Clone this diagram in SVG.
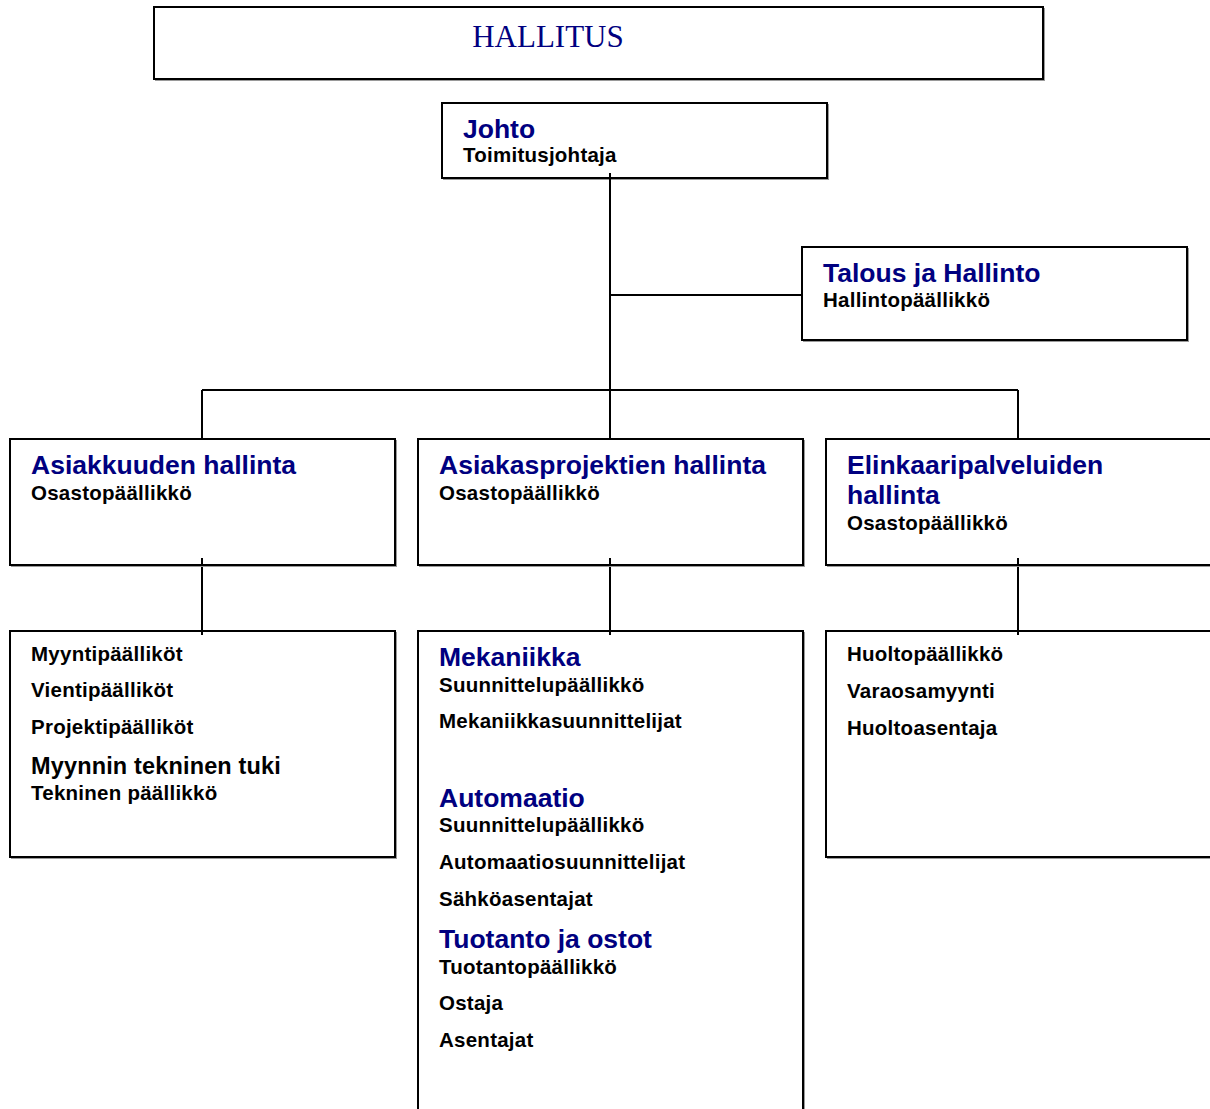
<svg xmlns="http://www.w3.org/2000/svg" width="1210" height="1109" viewBox="0 0 1210 1109">
  <style>
    .box { fill: #ffffff; stroke: #000000; stroke-width: 2; }
    .shadow { fill: none; stroke: #9a9a9a; stroke-width: 2; }
    .link { stroke: #000000; stroke-width: 2; fill: none; }
    .board { font-family: "Liberation Serif", "Times New Roman", serif; font-size: 31px; fill: #000080; }
    .title { font-family: "Liberation Sans", Arial, sans-serif; font-weight: bold; font-size: 26.5px; fill: #000080; }
    .role { font-family: "Liberation Sans", Arial, sans-serif; font-weight: bold; font-size: 20.5px; letter-spacing: 0.25px; fill: #000000; }
    .sub { font-family: "Liberation Sans", Arial, sans-serif; font-weight: bold; font-size: 23.5px; letter-spacing: 0.15px; fill: #000000; }
  </style>
  <rect width="1210" height="1109" fill="#ffffff"/>

  <!-- connectors -->
  <g id="connectors">
    <line class="link" x1="610" y1="173" x2="610" y2="440"/>
    <line class="link" x1="610" y1="295" x2="802" y2="295"/>
    <line class="link" x1="202" y1="390" x2="1018" y2="390"/>
    <line class="link" x1="202" y1="390" x2="202" y2="440"/>
    <line class="link" x1="1018" y1="390" x2="1018" y2="440"/>
    <line class="link" x1="202" y1="558" x2="202" y2="635"/>
    <line class="link" x1="610" y1="558" x2="610" y2="635"/>
    <line class="link" x1="1018" y1="558" x2="1018" y2="635"/>
  </g>

  <g id="hallitus">
    <polyline class="shadow" points="1044,8 1044,80 155,80"/>
    <rect class="box" x="154" y="7" width="889" height="72"/>
    <text class="board" x="548" y="47" text-anchor="middle">HALLITUS</text>
  </g>

  <g id="johto">
    <polyline class="shadow" points="828,104 828,179 443,179"/>
    <rect class="box" x="442" y="103" width="385" height="75"/>
    <text class="title" x="463" y="138">Johto</text>
    <text class="role" x="463" y="162">Toimitusjohtaja</text>
  </g>
  <line class="link" x1="610" y1="173" x2="610" y2="182"/>

  <g id="talous">
    <polyline class="shadow" points="1188,248 1188,341 803,341"/>
    <rect class="box" x="802" y="247" width="385" height="93"/>
    <text class="title" x="823" y="282">Talous ja Hallinto</text>
    <text class="role" x="823" y="307">Hallintopäällikkö</text>
  </g>

  <g id="asiakkuus">
    <polyline class="shadow" points="396,440 396,566 11,566"/>
    <rect class="box" x="10" y="439" width="385" height="126"/>
    <text class="title" x="31" y="474">Asiakkuuden hallinta</text>
    <text class="role" x="31" y="500">Osastopäällikkö</text>
  </g>

  <g id="asiakasprojektit">
    <polyline class="shadow" points="804,440 804,566 419,566"/>
    <rect class="box" x="418" y="439" width="385" height="126"/>
    <text class="title" x="439" y="474">Asiakasprojektien hallinta</text>
    <text class="role" x="439" y="500">Osastopäällikkö</text>
  </g>

  <g id="elinkaari">
    <polyline class="shadow" points="827,566 1212,566"/>
    <rect class="box" x="826" y="439" width="390" height="126"/>
    <text class="title" x="847" y="474">Elinkaaripalveluiden</text>
    <text class="title" x="847" y="504">hallinta</text>
    <text class="role" x="847" y="530">Osastopäällikkö</text>
  </g>

  <!-- short stubs crossing the lower box edges -->
  <g id="stubs">
    <line class="link" x1="202" y1="558" x2="202" y2="566"/>
    <line class="link" x1="610" y1="558" x2="610" y2="566"/>
    <line class="link" x1="1018" y1="558" x2="1018" y2="566"/>
  </g>

  <g id="myynti">
    <polyline class="shadow" points="396,632 396,858 11,858"/>
    <rect class="box" x="10" y="631" width="385" height="226"/>
    <text class="role" x="31" y="661">Myyntipäälliköt</text>
    <text class="role" x="31" y="697">Vientipäälliköt</text>
    <text class="role" x="31" y="734">Projektipäälliköt</text>
    <text class="sub" x="31" y="774">Myynnin tekninen tuki</text>
    <text class="role" x="31" y="800">Tekninen päällikkö</text>
  </g>

  <g id="projektit">
    <polyline class="shadow" points="804,632 804,1112"/>
    <rect class="box" x="418" y="631" width="385" height="490"/>
    <text class="title" x="439" y="666">Mekaniikka</text>
    <text class="role" x="439" y="692">Suunnittelupäällikkö</text>
    <text class="role" x="439" y="728">Mekaniikkasuunnittelijat</text>
    <text class="title" x="439" y="807">Automaatio</text>
    <text class="role" x="439" y="832">Suunnittelupäällikkö</text>
    <text class="role" x="439" y="869">Automaatiosuunnittelijat</text>
    <text class="role" x="439" y="906">Sähköasentajat</text>
    <text class="title" x="439" y="948">Tuotanto ja ostot</text>
    <text class="role" x="439" y="974">Tuotantopäällikkö</text>
    <text class="role" x="439" y="1010">Ostaja</text>
    <text class="role" x="439" y="1047">Asentajat</text>
  </g>

  <g id="huolto">
    <polyline class="shadow" points="827,858 1212,858"/>
    <rect class="box" x="826" y="631" width="390" height="226"/>
    <text class="role" x="847" y="661">Huoltopäällikkö</text>
    <text class="role" x="847" y="698">Varaosamyynti</text>
    <text class="role" x="847" y="735">Huoltoasentaja</text>
  </g>

  <!-- stubs entering the top of the lower boxes -->
  <g id="stubs-lower">
    <line class="link" x1="202" y1="625" x2="202" y2="635"/>
    <line class="link" x1="610" y1="625" x2="610" y2="635"/>
    <line class="link" x1="1018" y1="625" x2="1018" y2="635"/>
  </g>
</svg>
